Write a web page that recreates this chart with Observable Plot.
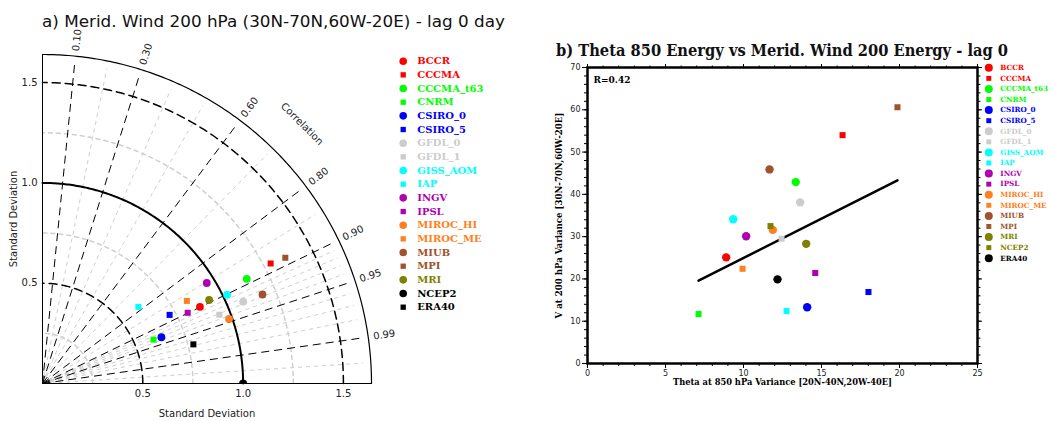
<!DOCTYPE html>
<html><head><meta charset="utf-8">
<script src="https://cdn.jsdelivr.net/npm/d3@7"></script>
<script src="https://cdn.jsdelivr.net/npm/@observablehq/plot@0.6"></script>
<style>
html,body{margin:0;padding:0;background:#fff;}
#root{position:relative;width:1051px;height:421px;overflow:hidden;background:#fff;}
#root svg{position:absolute;overflow:visible;}
</style></head><body><div id="root"></div>
<script>
// ---------------- DATA ----------------
const models = ["BCCR","CCCMA","CCCMA_t63","CNRM","CSIRO_0","CSIRO_5","GFDL_0","GFDL_1","GISS_AOM","IAP","INGV","IPSL","MIROC_HI","MIROC_ME","MIUB","MPI","MRI","NCEP2","ERA40"];
const colors = ["#ff0000","#ff0000","#00ff00","#00ff00","#0000ff","#0000ff","#cccccc","#cccccc","#00ffff","#00ffff","#b000b0","#b000b0","#ff8020","#ff8020","#a0522d","#a0522d","#808000","#000000","#000000"];
const taylorSymbols = ["circle","square","circle","square","circle","square","circle","square","circle","square","circle","square","circle","square","circle","square","circle","circle","square"];
// Taylor diagram: normalised standard deviation and correlation (NCEP2 = reference)
const taylorStd  = [0.873,1.285,1.144,0.595,0.636,0.720,1.080,0.946,1.021,0.612,0.960,0.805,0.984,0.829,1.183,1.363,0.929,1.000,0.777];
const taylorCorr = [0.899,0.885,0.890,0.930,0.932,0.880,0.926,0.932,0.901,0.781,0.853,0.899,0.945,0.868,0.927,0.888,0.894,1.000,0.968];
// Scatter: symbols and colours in panel b legend
const scatterSymbols = ["circle","square","circle","square","circle","square","circle","square","circle","square","circle","square","circle","square","circle","square","circle","square","circle"];
const scatterColors = ["#ff0000","#ff0000","#00ff00","#00ff00","#0000ff","#0000ff","#cccccc","#cccccc","#00ffff","#00ffff","#b000b0","#b000b0","#ff8020","#ff8020","#a0522d","#a0522d","#808000","#808000","#000000"];
const thetaVar = [8.89,16.35,13.35,7.12,14.08,18.01,13.63,12.44,9.34,12.76,10.17,14.60,11.88,9.94,11.67,19.87,14.02,11.73,12.18];
const windVar  = [25.1,54.0,42.9,11.7,13.3,16.9,38.1,29.5,34.1,12.4,30.1,21.4,31.6,22.4,45.9,60.6,28.3,32.5,19.9];
const fitX = [7.12, 19.87];
const fitY = [19.6, 43.3];
const rLabel = "R=0.42";
// axis ticks / labels
const corrLabels = [0.10,0.30,0.60,0.80,0.90,0.95,0.99];
const corrMinor = [0.2,0.4,0.5,0.7,0.85,0.91,0.92,0.93,0.94,0.96,0.97,0.98,0.998];
const stdTicks = [0.5,1.0,1.5];
const stdMinorArcs = [0.25,0.75,1.25];
const stdDashedArcs = [0.5,1.5];
const xTicks = [0,5,10,15,20,25];
const yTicks = [0,10,20,30,40,50,60,70];
const titleA = "a) Merid. Wind 200 hPa (30N-70N,60W-20E) - lag 0 day";
const titleB = "b) Theta 850 Energy vs Merid. Wind 200 Energy - lag 0";
const xLabelB = "Theta at 850 hPa Variance [20N-40N,20W-40E]";
const yLabelB = "V at 200 hPa Variance [30N-70N,60W-20E]";

// ---------------- BUILD ----------------
const root = document.getElementById("root");
const R = 1.64;
const arc = r => d3.range(0, 90.01, 0.5).map(a => [r*Math.cos(a*Math.PI/180), r*Math.sin(a*Math.PI/180)]);
const sinOf = c => Math.sqrt(Math.max(0, 1 - c*c));

const taylorData = models.map((m,i) => ({model:m, x: taylorStd[i]*taylorCorr[i], y: taylorStd[i]*sinOf(taylorCorr[i]), color: colors[i], symbol: taylorSymbols[i]}));
const tRef = taylorData.filter(d => d.model === "NCEP2");
const tOthers = taylorData.filter(d => d.model !== "NCEP2");

const taylor = Plot.plot({
  width: 380, height: 421,
  marginLeft: 42, marginRight: 9, marginTop: 54, marginBottom: 38,
  x: {domain: [0, R]}, y: {domain: [0, R]},
  style: {fontFamily: "DejaVu Sans", fontSize: "10px", background: "transparent", color: "#222", overflow: "visible"},
  marks: [
    ...stdMinorArcs.map(r => Plot.line(arc(r), {stroke: "#cfcfcf", strokeDasharray: "4,4"})),
    Plot.link(corrMinor, {x1: 0, y1: 0, x2: c => 1.6*c, y2: c => 1.6*sinOf(c), stroke: "#cfcfcf", strokeDasharray: "4,4"}),
    Plot.link(corrLabels, {x1: 0, y1: 0, x2: c => 1.6*c, y2: c => 1.6*sinOf(c), stroke: "#000", strokeDasharray: "8,5"}),
    ...stdDashedArcs.map(r => Plot.line(arc(r), {stroke: "#000", strokeDasharray: "8,5"})),
    Plot.line(arc(1.0), {stroke: "#000", strokeWidth: 2}),
    Plot.line(arc(R), {stroke: "#000", strokeWidth: 1.2}),
    Plot.ruleX([0], {y1: 0, y2: R, stroke: "#000"}),
    Plot.ruleY([0], {x1: 0, x2: R, stroke: "#000"}),
    Plot.axisX({ticks: stdTicks, tickFormat: d => d.toFixed(1), tickSize: 0, tickPadding: 6, label: null}),
    Plot.axisY({ticks: stdTicks, tickFormat: d => d.toFixed(1), tickSize: 0, tickPadding: 5, label: null}),
    Plot.text(["Standard Deviation"], {frameAnchor: "bottom", dy: 33, fontSize: 10, textAnchor: "middle"}),
    Plot.text(["Standard Deviation"], {frameAnchor: "left", dx: -29, rotate: -90, fontSize: 10, textAnchor: "middle"}),
    Plot.text(corrLabels, {x: c => 1.665*c, y: c => 1.665*sinOf(c), text: c => c.toFixed(2), rotate: c => -Math.acos(c)*180/Math.PI, textAnchor: "start", fontSize: 10}),
    Plot.text(["Correlation"], {x: 1.83*Math.SQRT1_2, y: 1.83*Math.SQRT1_2, rotate: 45, fontSize: 10}),
    Plot.dot(tOthers.filter(d => d.symbol === "circle"), {x: "x", y: "y", fill: "color", r: 3.9, symbol: "circle"}),
    Plot.dot(tOthers.filter(d => d.symbol === "square"), {x: "x", y: "y", fill: "color", r: 3.4, symbol: "square"}),
    Plot.dot(tRef, {x: "x", y: "y", fill: "#000", r: 4, clip: "frame"})
  ]
});
taylor.style.left = "0px"; taylor.style.top = "0px";
root.appendChild(taylor);

// Legend a
const legA = models.map((m,i) => ({model: m, i, color: colors[i], symbol: taylorSymbols[i]}));
const legendA = Plot.plot({
  width: 160, height: 421,
  marginLeft: 22.7, marginRight: 10, marginTop: 60.7, marginBottom: 114.3,
  x: {domain: [0, 1], axis: null}, y: {domain: [0, 18], reverse: true, axis: null},
  style: {background: "transparent", overflow: "visible"},
  marks: [
    Plot.dot(legA.filter(d => d.symbol === "circle"), {x: 0, y: "i", fill: "color", r: 3.8, symbol: "circle"}),
    Plot.dot(legA.filter(d => d.symbol === "square"), {x: 0, y: "i", fill: "color", r: 3.0, symbol: "square"}),
    Plot.text(legA, {x: 0, y: "i", text: "model", fill: "color", dx: 14, textAnchor: "start", fontFamily: "DejaVu Serif", fontWeight: "bold", fontSize: 10})
  ]
});
legendA.style.left = "380px"; legendA.style.top = "0px";
root.appendChild(legendA);

// Scatter b
const scat = models.map((m,i) => ({model: m, x: thetaVar[i], y: windVar[i], color: scatterColors[i], symbol: scatterSymbols[i]}));
const fit = fitX.map((x,i) => ({x, y: fitY[i]}));
const scatter = Plot.plot({
  width: 447, height: 421,
  marginLeft: 47, marginRight: 10, marginTop: 67, marginBottom: 58,
  x: {domain: [0, 25]}, y: {domain: [0, 70]},
  style: {fontFamily: "DejaVu Sans", fontSize: "8px", background: "transparent", color: "#222", overflow: "visible"},
  marks: [
    Plot.axisX({ticks: xTicks, tickSize: 5, tickPadding: 2, label: null, stroke: "#000"}),
    Plot.axisX({ticks: d3.range(0, 25.1, 1), tickSize: 3, fill: "none", label: null, stroke: "#000"}),
    Plot.axisX({anchor: "top", ticks: xTicks, tickSize: 4, fill: "none", label: null, stroke: "#000"}),
    Plot.axisX({anchor: "top", ticks: d3.range(0, 25.1, 1), tickSize: 2.5, fill: "none", label: null, stroke: "#000"}),
    Plot.axisY({ticks: yTicks, tickSize: 5, tickPadding: 2, label: null, stroke: "#000"}),
    Plot.axisY({ticks: d3.range(0, 70.1, 2), tickSize: 3, fill: "none", label: null, stroke: "#000"}),
    Plot.axisY({anchor: "right", ticks: yTicks, tickSize: 4, fill: "none", label: null, stroke: "#000"}),
    Plot.axisY({anchor: "right", ticks: d3.range(0, 70.1, 2), tickSize: 2.5, fill: "none", label: null, stroke: "#000"}),
    Plot.frame({stroke: "#000", strokeWidth: 2.5}),
    Plot.line(fit, {x: "x", y: "y", stroke: "#000", strokeWidth: 2.5}),
    Plot.dot(scat.filter(d => d.symbol === "circle"), {x: "x", y: "y", fill: "color", r: 4.2, symbol: "circle"}),
    Plot.dot(scat.filter(d => d.symbol === "square"), {x: "x", y: "y", fill: "color", r: 3.4, symbol: "square"}),
    Plot.text([rLabel], {frameAnchor: "top-left", dx: 6, dy: 9, textAnchor: "start", fontFamily: "DejaVu Serif", fontWeight: "bold", fontSize: 9, fill: "#000"}),
    Plot.text([xLabelB], {frameAnchor: "bottom", dy: 21, fontFamily: "DejaVu Serif", fontWeight: "bold", fontSize: 8.3, fill: "#000", textAnchor: "middle"}),
    Plot.text([yLabelB], {frameAnchor: "left", dx: -28, rotate: -90, fontFamily: "DejaVu Serif", fontWeight: "bold", fontSize: 8.6, fill: "#000", textAnchor: "middle"})
  ]
});
scatter.style.left = "540px"; scatter.style.top = "0px";
root.appendChild(scatter);

// Legend b
const legB = models.map((m,i) => ({model: m, i, color: scatterColors[i], symbol: scatterSymbols[i]}));
const legendB = Plot.plot({
  width: 76, height: 421,
  marginLeft: 13.3, marginRight: 2, marginTop: 67.3, marginBottom: 163.3,
  x: {domain: [0, 1], axis: null}, y: {domain: [0, 18], reverse: true, axis: null},
  style: {background: "transparent", overflow: "visible"},
  marks: [
    Plot.dot(legB.filter(d => d.symbol === "circle"), {x: 0, y: "i", fill: "color", r: 4, symbol: "circle"}),
    Plot.dot(legB.filter(d => d.symbol === "square"), {x: 0, y: "i", fill: "color", r: 2.8, symbol: "square"}),
    Plot.text(legB, {x: 0, y: "i", text: "model", fill: "color", dx: 11.5, textAnchor: "start", fontFamily: "DejaVu Serif", fontWeight: "bold", fontSize: 7.2})
  ]
});
legendB.style.left = "975px"; legendB.style.top = "0px";
root.appendChild(legendB);

// Titles
const ov = d3.create("svg").attr("width", 1051).attr("height", 421).style("left", "0px").style("top", "0px").style("pointer-events", "none");
ov.append("text").attr("x", 42).attr("y", 26.7).attr("font-family", "DejaVu Sans").attr("font-size", 15).attr("fill", "#111")
  .attr("textLength", 463).attr("lengthAdjust", "spacingAndGlyphs").text(titleA);
ov.append("text").attr("x", 556).attr("y", 56).attr("font-family", "DejaVu Serif").attr("font-weight", "bold").attr("font-size", 16).attr("fill", "#111")
  .attr("textLength", 452).attr("lengthAdjust", "spacingAndGlyphs").text(titleB);
root.appendChild(ov.node());
</script></body></html>
